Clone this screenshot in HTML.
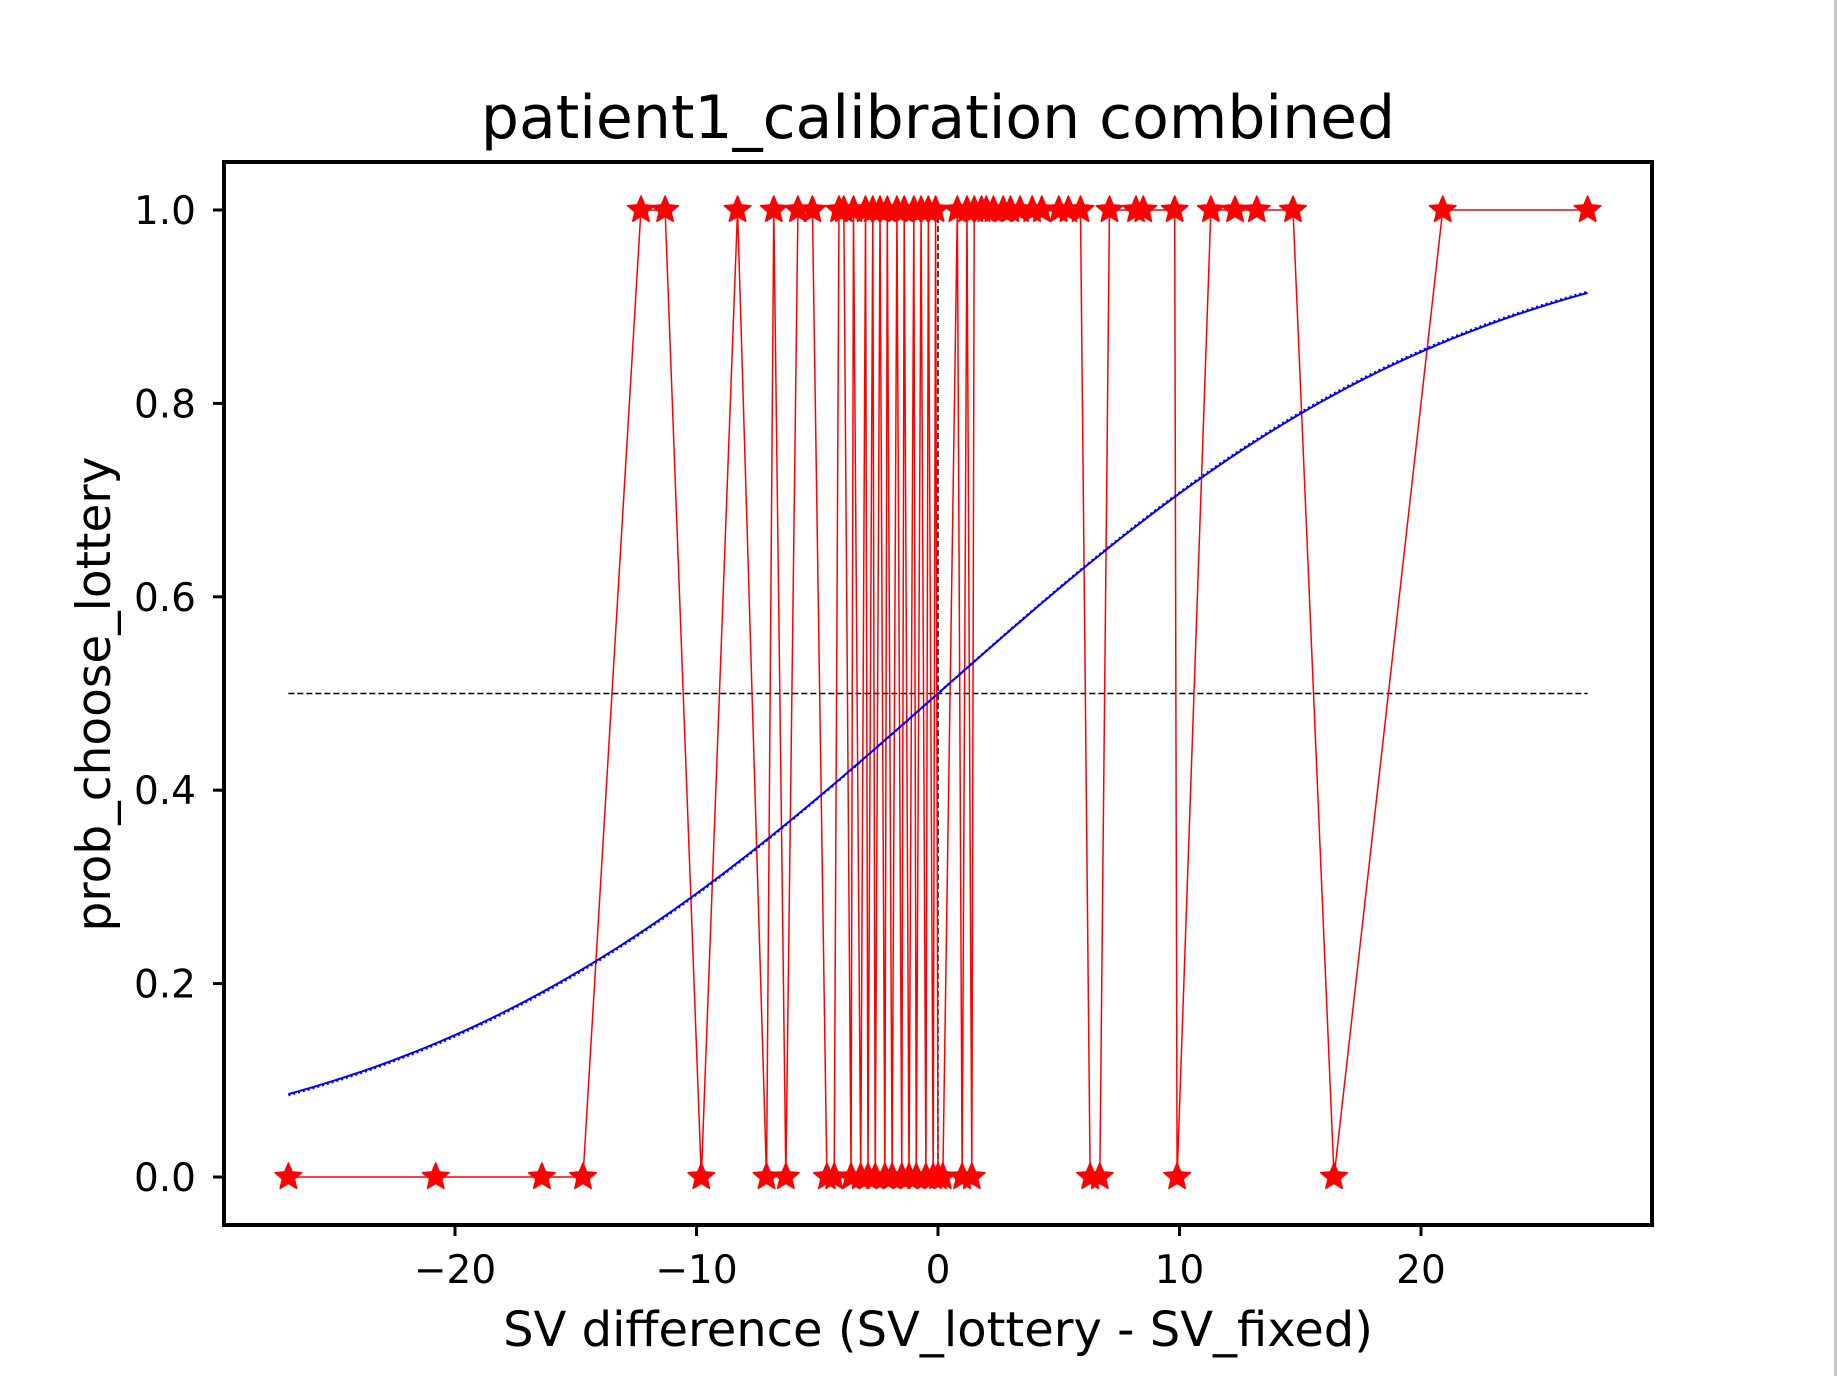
<!DOCTYPE html>
<html><head><meta charset="utf-8"><style>
html,body{margin:0;padding:0;background:#fff;}
svg{display:block;font-family:"DejaVu Sans","Liberation Sans",sans-serif;}
</style></head><body>
<svg id="chart" width="1838" height="1376" viewBox="0 0 1838 1376" xmlns="http://www.w3.org/2000/svg">
<rect x="0" y="0" width="1838" height="1376" fill="#fff"/>
<rect x="1834" y="0" width="3" height="1376" fill="#c8c8c8"/>
<text x="938" y="138" font-size="60" text-anchor="middle" fill="#000">patient1_calibration combined</text>
<g id="plot"></g>
<rect x="224" y="162" width="1428" height="1063" fill="none" stroke="#000" stroke-width="4"/>
<g id="ticks"></g>
<text x="938" y="1346" font-size="48" text-anchor="middle" fill="#000">SV difference (SV_lottery - SV_fixed)</text>
<text x="0" y="0" font-size="47" text-anchor="middle" fill="#000" transform="translate(110,694) rotate(-90)">prob_choose_lottery</text>
</svg>
<script>
const xValues = [-26.9,-20.8,-16.4,-14.7,-12.3,-11.3,-9.8,-8.3,-7.1,-6.8,-6.3,-5.8,-5.2,-4.6,-4.3,-4.1,-3.9,-3.6,-3.5,-3.2,-3.0,-2.9,-2.7,-2.6,-2.4,-2.2,-2.1,-1.9,-1.7,-1.5,-1.4,-1.2,-1.0,-0.9,-0.7,-0.5,-0.4,-0.2,-0.1,0.0,0.2,0.8,1.0,1.2,1.4,1.5,1.8,2.0,2.3,2.7,3.0,3.4,3.9,4.3,5.0,5.4,5.9,6.3,6.7,7.1,8.2,8.5,9.8,9.9,11.3,12.3,13.2,14.7,16.4,20.9,26.9];
const yValues = [0,0,0,0,1,1,0,1,0,1,0,1,1,0,0,1,1,0,1,0,1,0,1,0,1,0,1,0,1,0,1,0,1,0,1,0,1,0,1,0,0,1,0,1,0,1,1,1,1,1,1,1,1,1,1,1,1,0,0,1,1,1,1,0,1,1,1,1,0,1,1];
const xTicks = [-20,-10,0,10,20];
const yTicks = [0.0,0.2,0.4,0.6,0.8,1.0];
const fitSlope = [0.088];
const fitSlopeDotted = [0.0885];
const fitRange = [-26.9, 26.9];

const NS="http://www.w3.org/2000/svg";
const X = v => 938 + v*24.15;
const Y = v => 1177 - v*967;
const plot=document.getElementById('plot'), ticks=document.getElementById('ticks');
function mk(tag, attrs, parent){const e=document.createElementNS(NS,tag);for(const k in attrs)e.setAttribute(k,attrs[k]);parent.appendChild(e);return e;}

let hl=mk('line',{x1:X(fitRange[0]),x2:X(fitRange[1]),y1:Y(0.5),y2:Y(0.5),stroke:'#000','stroke-width':1.5,'stroke-dasharray':'6,3'},plot);


let vl=mk('line',{x1:X(0),x2:X(0),y1:Y(0),y2:Y(1),stroke:'#000','stroke-width':1.5,'stroke-dasharray':'6,3'},plot);



let pts=xValues.map((x,i)=>X(x)+','+Y(yValues[i])).join(' ');
let dl=mk('polyline',{points:pts,fill:'none',stroke:'#ff0000','stroke-width':1.5},plot);



function curve(k){let a=[];for(let i=0;i<=200;i++){const x=fitRange[0]+(fitRange[1]-fitRange[0])*i/200;a.push(X(x)+','+Y(1/(1+Math.exp(-k*x))));}return a.join(' ');}
let c1=mk('polyline',{points:curve(fitSlope[0]),fill:'none',stroke:'#0000ff','stroke-width':2},plot);


let c2=mk('polyline',{points:curve(fitSlopeDotted[0]),fill:'none',stroke:'#0000ff','stroke-width':2.5,'stroke-dasharray':'2,3'},plot);



function star(cx,cy,R){const r=R*0.45;let a=[];for(let i=0;i<10;i++){const ang=-Math.PI/2+i*Math.PI/5;const rr=i%2?r:R;a.push((cx+rr*Math.cos(ang)).toFixed(1)+','+(cy+rr*Math.sin(ang)).toFixed(1));}return a.join(' ');}
xValues.forEach((x,i)=>{
  const s=mk('polygon',{points:star(X(x),Y(yValues[i]),14),fill:'#ff0000',stroke:'#ff0000','stroke-width':1.5,'stroke-linejoin':'round'},plot);
  
  
});

xTicks.forEach(t=>{
  const l=mk('line',{x1:X(t),x2:X(t),y1:1225,y2:1236,stroke:'#000','stroke-width':3},ticks);
  
  
  const tx=mk('text',{x:X(t),y:1283,'font-size':39,'text-anchor':'middle',fill:'#000'},ticks);
  tx.textContent=(t<0?'\u2212'+(-t):String(t));
  
  
});
yTicks.forEach(t=>{
  const l=mk('line',{x1:213,x2:224,y1:Y(t),y2:Y(t),stroke:'#000','stroke-width':3},ticks);
  
  
  const tx=mk('text',{x:196,y:Y(t)+14,'font-size':39,'text-anchor':'end',fill:'#000'},ticks);
  tx.textContent=t.toFixed(1);
  
  
});
</script>
</body></html>
